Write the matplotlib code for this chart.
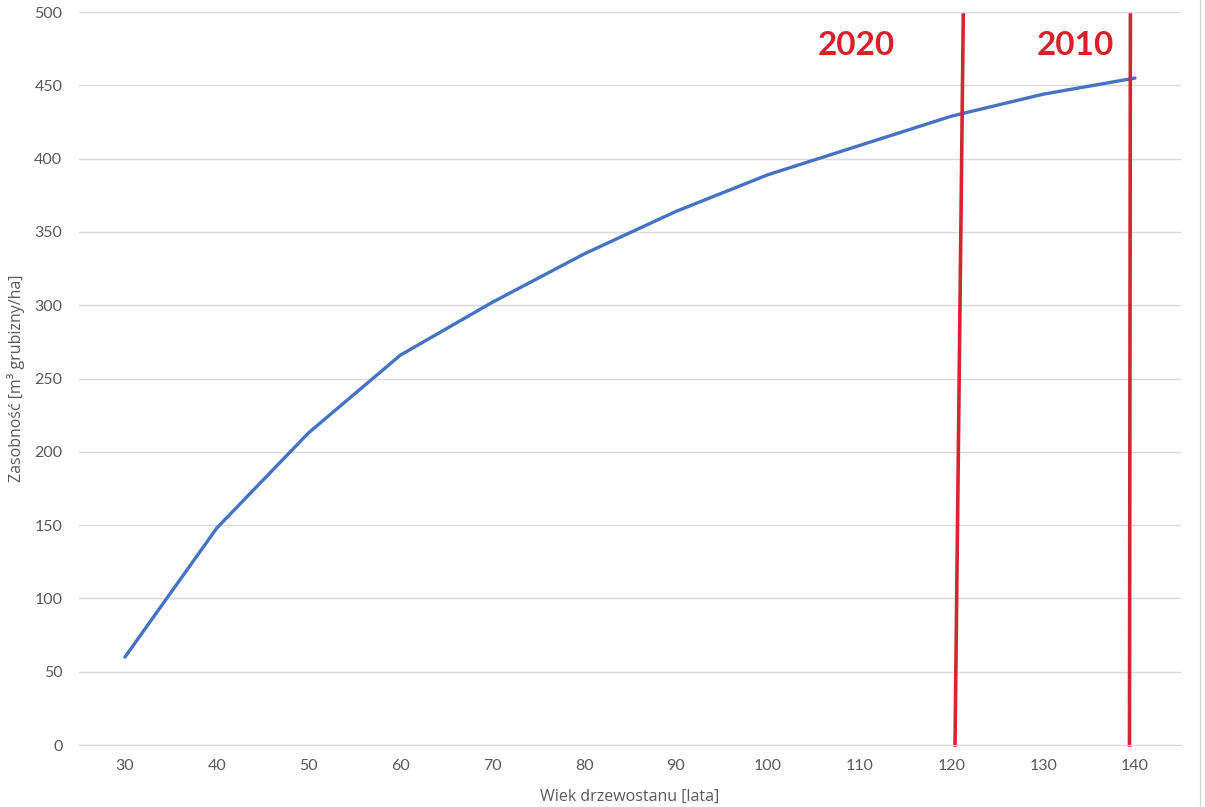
import matplotlib.pyplot as plt
import matplotlib as mpl

params = {
    'font.family': ['Lato', 'DejaVu Sans'],
    'font.size': 11,
    'xtick.labelsize': 11.5,
    'ytick.labelsize': 11.5,
    'xtick.color': '#595959',
    'ytick.color': '#595959',
    }
mpl.rcParams.update(params)

# wiek drzewostanu [lata]
ages = [30, 40, 50, 60, 70, 80, 90, 100, 110, 120, 130, 140]
# zasobnosc [m3/ha]
volume = [60, 148, 213, 266, 302, 335, 364, 389, 409, 429, 444, 455]

# hand drawn markers (x at bottom, x at top)
mark_labels = ['2020', '2010']
mark_x_bottom = [120.4, 139.4]
mark_x_top = [121.3, 139.5]
mark_text_x = [109.7, 133.5]

fig = plt.figure(figsize=(12.05, 8.07), dpi=100)
ax = fig.add_axes([0.0656, 0.0768, 0.9144, 0.9082])

ax.plot(ages, volume, color='#4472C4', linewidth=2.4, solid_capstyle='round')

ax.set_xlim(25, 145)
ax.set_ylim(0, 500)
ax.set_xticks(ages)
ax.set_yticks(range(0, 501, 50))
ax.grid(axis='y', color='#d9d9d9', linewidth=1)
ax.set_axisbelow(True)
for side in ['top', 'right', 'left']:
    ax.spines[side].set_visible(False)
ax.spines['bottom'].set_color('#d9d9d9')
ax.tick_params(length=0, pad=12)
ax.tick_params(axis='x', pad=10)

ax.set_xlabel('Wiek drzewostanu [lata]', color='#595959', fontsize=11.5,
              family=['Open Sans', 'DejaVu Sans'])
ax.set_ylabel('Zasobność [m³ grubizny/ha]', color='#595959', fontsize=11.5,
              family=['Open Sans', 'DejaVu Sans'])
ax.yaxis.set_label_coords(-0.049, 0.5)
ax.xaxis.set_label_coords(0.5, -0.060)

for lab, xb, xt, xtx in zip(mark_labels, mark_x_bottom, mark_x_top, mark_text_x):
    ax.plot([xb, xt], [0, 498], color='#d42530', linewidth=2.6, clip_on=False)
    ax.text(xtx, 477, lab, color='#d7202a', fontsize=24, fontweight='bold',
            ha='center', va='center')

fig.add_artist(plt.Line2D([0.996, 0.996], [0.0, 1.0], color='#d9d9d9', linewidth=1))

plt.savefig('out.png', dpi=100)
